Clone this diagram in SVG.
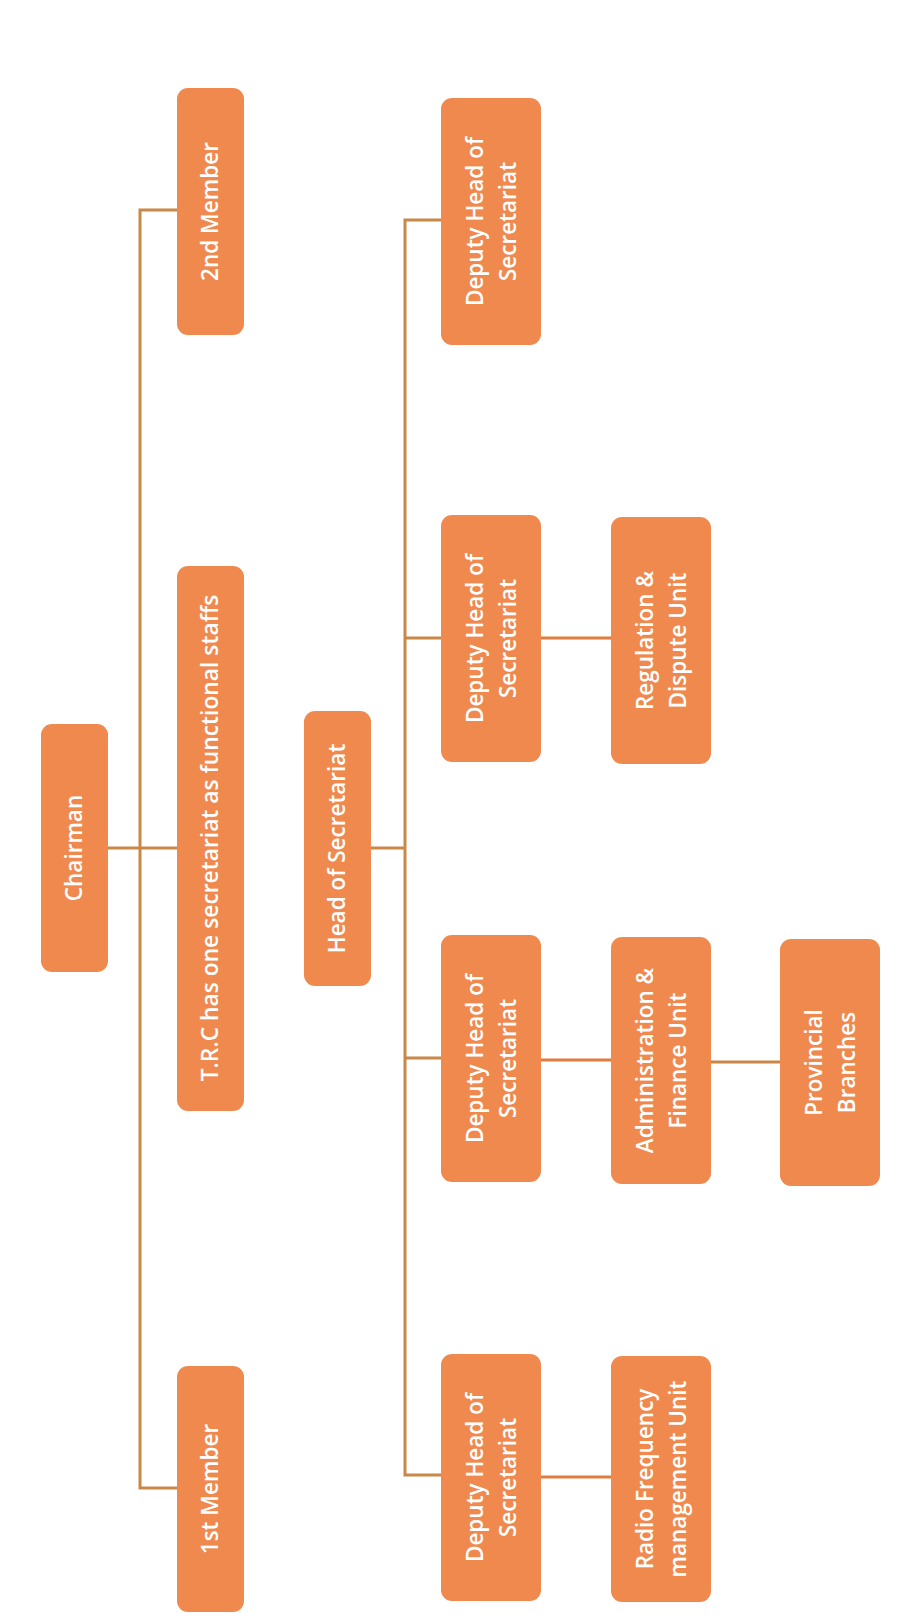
<svg xmlns="http://www.w3.org/2000/svg" width="907" height="1614" viewBox="0 0 907 1614">
<style>
.box{fill:#F0894E;}
.t{fill:#FFFFFF;font-family:"Open Sans","Liberation Sans",sans-serif;font-weight:600;font-size:22.5px;text-anchor:middle;}
.ln{stroke:#C98848;stroke-width:3;fill:none;}
.ln2{stroke:#E07D3C;stroke-width:3;fill:none;}
</style>
<rect width="907" height="1614" fill="#FFFFFF"/>
<g id="connectors">
<path class="ln" d="M108 848 H177"/>
<path class="ln" d="M177 210 H140 V1488 H177"/>
<path class="ln" d="M371 848 H405"/>
<path class="ln" d="M441 220 H405 V1475 H441"/>
<path class="ln" d="M405 638 H441"/>
<path class="ln" d="M405 1058 H441"/>
<path class="ln2" d="M541 638 H611"/>
<path class="ln2" d="M541 1060 H611"/>
<path class="ln2" d="M541 1477 H611"/>
<path class="ln" d="M711 1062 H780"/>
</g>
<g id="chairman">
<rect class="box" x="41" y="724" width="67" height="248" rx="11"/>
<text class="t" transform="translate(74.5,848) rotate(-90)" dy="0.35em">Chairman</text>
</g>
<g id="member2">
<rect class="box" x="177" y="88" width="67" height="247" rx="11"/>
<text class="t" transform="translate(210.5,211.5) rotate(-90)" dy="0.35em">2nd Member</text>
</g>
<g id="trc">
<rect class="box" x="177" y="566" width="67" height="545" rx="11"/>
<text class="t" style="font-size:22.8px" transform="translate(210.5,838) rotate(-90)" dy="0.35em">T.R.C has one secretariat as functional staffs</text>
</g>
<g id="member1">
<rect class="box" x="177" y="1366" width="67" height="246" rx="11"/>
<text class="t" transform="translate(210.5,1489) rotate(-90)" dy="0.35em">1st Member</text>
</g>
<g id="head">
<rect class="box" x="304" y="711" width="67" height="275" rx="11"/>
<text class="t" transform="translate(337.5,848.5) rotate(-90)" dy="0.35em">Head of Secretariat</text>
</g>
<g id="deputy1">
<rect class="box" x="441" y="98" width="100" height="247" rx="11"/>
<text class="t" transform="translate(491,221.5) rotate(-90)"><tspan x="0" y="-16" dy="0.35em">Deputy Head of</tspan><tspan x="0" y="17" dy="0.35em">Secretariat</tspan></text>
</g>
<g id="deputy2">
<rect class="box" x="441" y="515" width="100" height="247" rx="11"/>
<text class="t" transform="translate(491,638.5) rotate(-90)"><tspan x="0" y="-16" dy="0.35em">Deputy Head of</tspan><tspan x="0" y="17" dy="0.35em">Secretariat</tspan></text>
</g>
<g id="deputy3">
<rect class="box" x="441" y="935" width="100" height="247" rx="11"/>
<text class="t" transform="translate(491,1058.5) rotate(-90)"><tspan x="0" y="-16" dy="0.35em">Deputy Head of</tspan><tspan x="0" y="17" dy="0.35em">Secretariat</tspan></text>
</g>
<g id="deputy4">
<rect class="box" x="441" y="1354" width="100" height="247" rx="11"/>
<text class="t" transform="translate(491,1477.5) rotate(-90)"><tspan x="0" y="-16" dy="0.35em">Deputy Head of</tspan><tspan x="0" y="17" dy="0.35em">Secretariat</tspan></text>
</g>
<g id="regulation">
<rect class="box" x="611" y="517" width="100" height="247" rx="11"/>
<text class="t" transform="translate(661,640.5) rotate(-90)"><tspan x="0" y="-16" dy="0.35em">Regulation &amp;</tspan><tspan x="0" y="17" dy="0.35em">Dispute Unit</tspan></text>
</g>
<g id="admin">
<rect class="box" x="611" y="937" width="100" height="247" rx="11"/>
<text class="t" transform="translate(661,1060.5) rotate(-90)"><tspan x="0" y="-16" dy="0.35em">Administration &amp;</tspan><tspan x="0" y="17" dy="0.35em">Finance Unit</tspan></text>
</g>
<g id="provincial">
<rect class="box" x="780" y="939" width="100" height="247" rx="11"/>
<text class="t" transform="translate(830,1062.5) rotate(-90)"><tspan x="0" y="-16" dy="0.35em">Provincial</tspan><tspan x="0" y="17" dy="0.35em">Branches</tspan></text>
</g>
<g id="radio">
<rect class="box" x="611" y="1356" width="100" height="246" rx="11"/>
<text class="t" transform="translate(661,1479) rotate(-90)"><tspan x="0" y="-16" dy="0.35em">Radio Frequency</tspan><tspan x="0" y="17" dy="0.35em">management Unit</tspan></text>
</g>
</svg>
